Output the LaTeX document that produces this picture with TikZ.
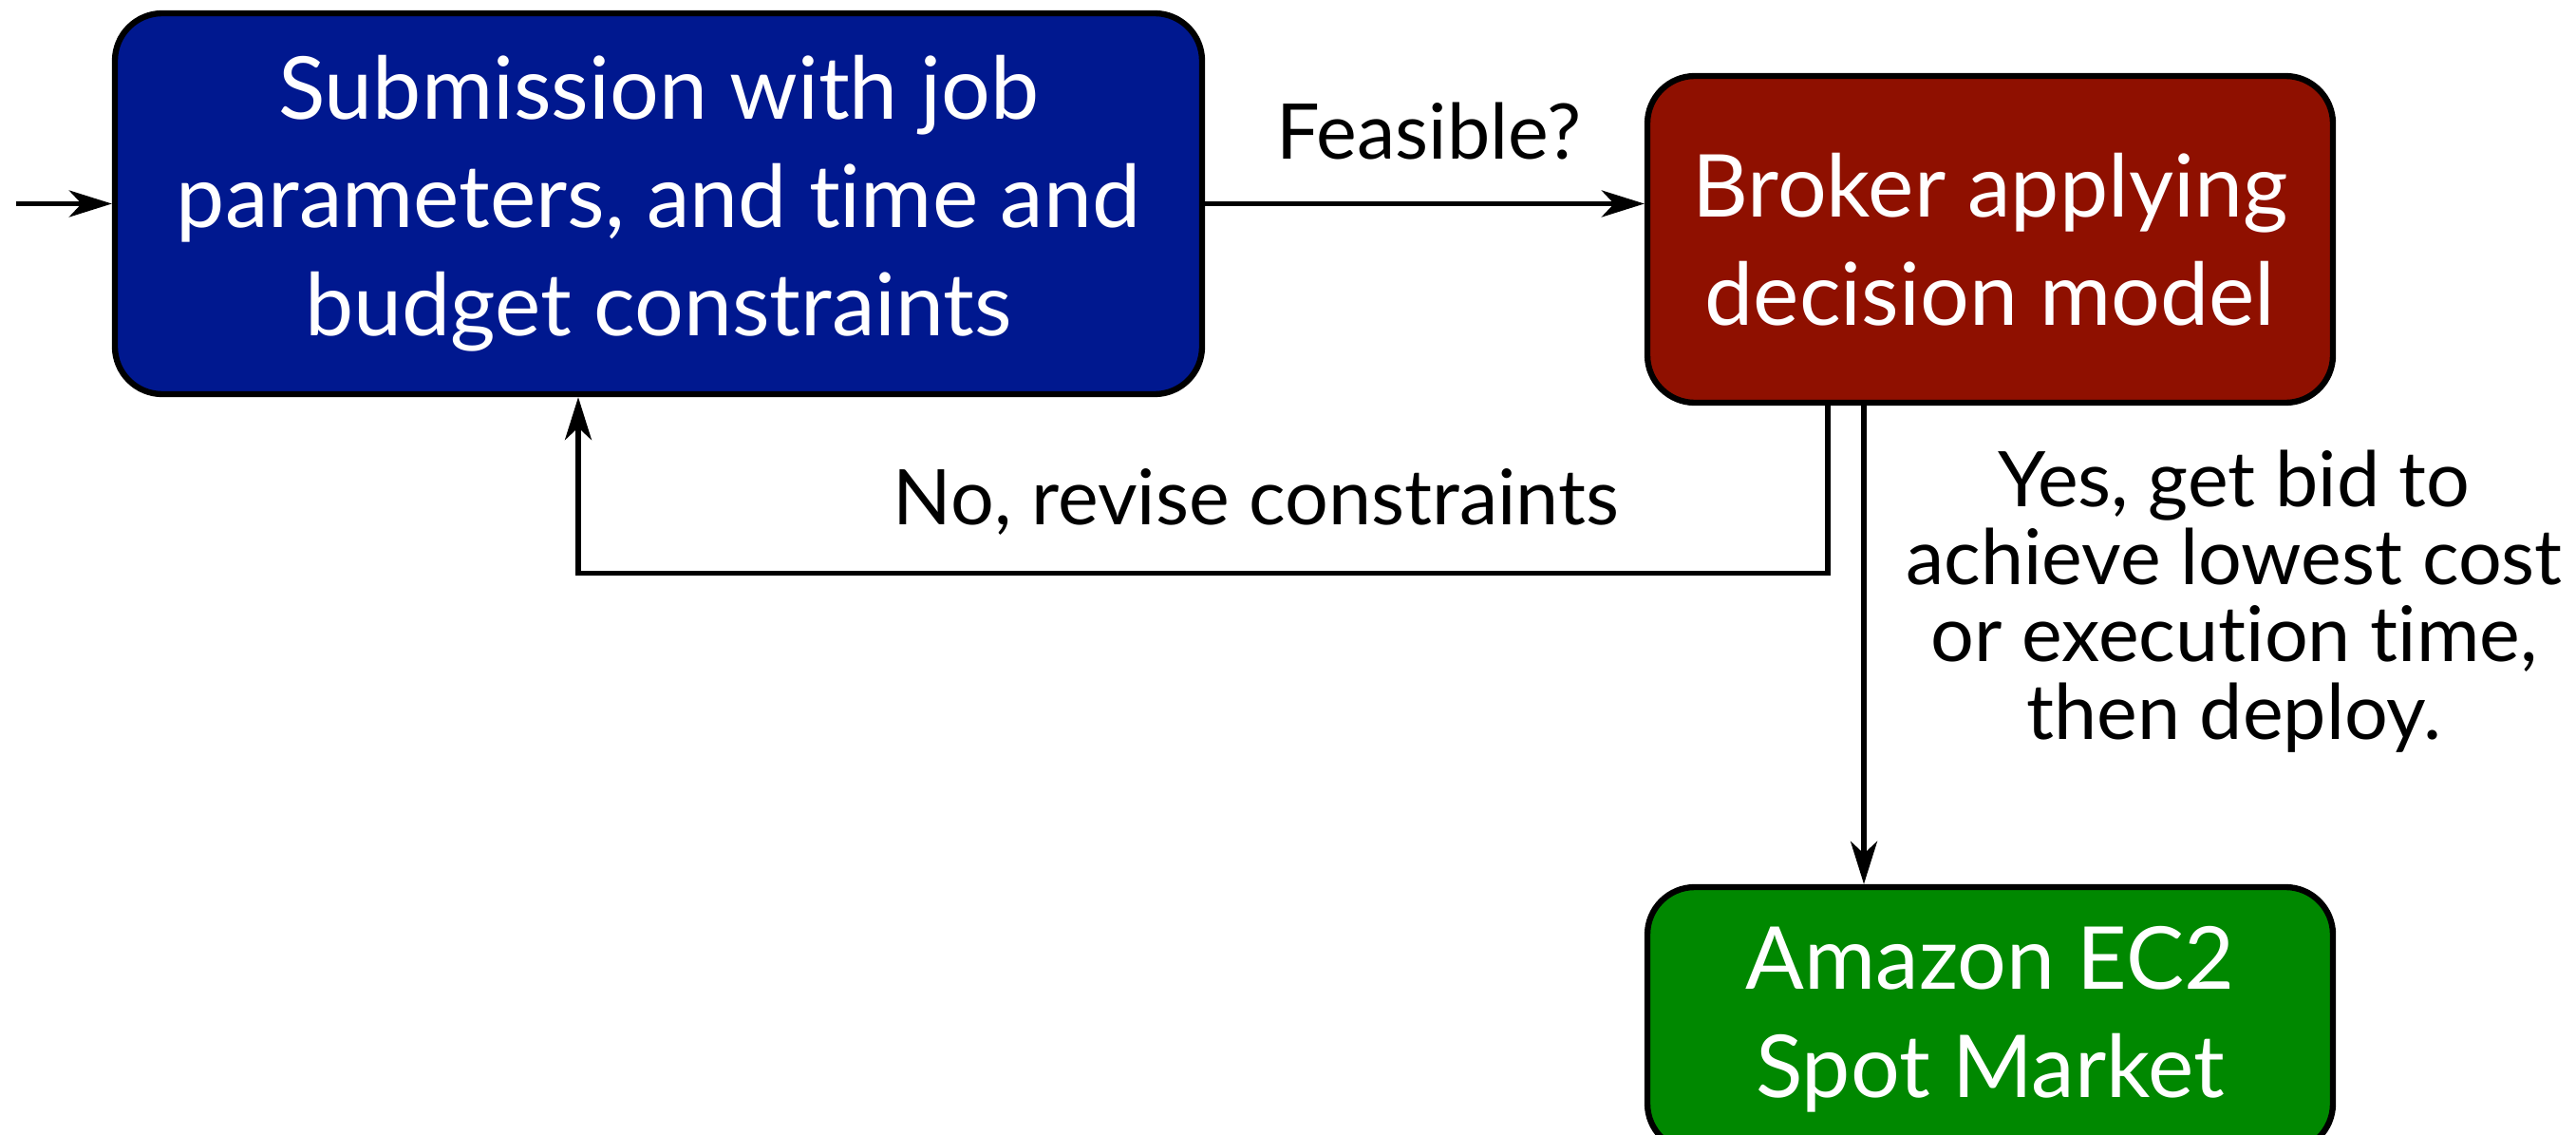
\documentclass[tikz,border=0pt]{standalone}
\usepackage{fontspec}
\setmainfont{Lato}[Ligatures=NoCommon]
\usepackage{tikz}
\usetikzlibrary{arrows.meta, positioning}

\definecolor{submitblue}{RGB}{0,24,143}
\definecolor{brokerred}{RGB}{143,16,0}
\definecolor{spotgreen}{RGB}{0,136,0}

\tikzset{
    stagebox/.style={draw=black, line width=1.8pt, rounded corners=0.5cm,
        text=white, align=center, font=\fontsize{26}{32.4}\selectfont},
    flow/.style={-{Stealth[length=0.45cm, width=0.28cm, inset=0.13cm]}, line width=1.5pt},
    flowlabel/.style={align=center, font=\fontsize{23}{23.2}\selectfont}
}

\begin{document}
\begin{tikzpicture}
        \useasboundingbox (0,0) rectangle (27.13,11.94);

        % Cajas del proceso
        \node[stagebox, fill=submitblue, minimum width=11.45cm, minimum height=4.01cm] (submit) at (6.935, 9.795)
            {Submission with job\\parameters, and time and\\budget constraints};
        \node[stagebox, fill=brokerred, minimum width=7.22cm, minimum height=3.44cm] (broker) at (20.96, 9.42)
            {Broker applying\\decision model};
        \node[stagebox, fill=spotgreen, minimum width=7.22cm, minimum height=2.78cm] (spot) at (20.96, 1.21)
            {Amazon EC2\\Spot Market};

        % Entrada y flechas entre cajas
        \coordinate (input) at (0.17, 9.795);
        \draw[flow] (input) -- (submit.west);
        \draw[flow] (submit.east) -- (submit.east -| broker.west);
        \node[flowlabel] (feasible) at (15.05, 10.56) {Feasible?};

        % Vuelta atras: revisar restricciones
        \draw[flow] ([xshift=-1.71cm]broker.south) -- ++(0,-1.76) -| ([xshift=-0.845cm]submit.south);
        \node[flowlabel] (revise) at (13.23, 6.66) {No, revise constraints};

        % Despliegue en el mercado spot
        \draw[flow] ([xshift=-1.33cm]broker.south) -- ([xshift=-1.33cm]spot.north);
        \node[flowlabel] (deploy) at (23.53, 5.61)
            {Yes, get bid to\\achieve lowest cost\\or execution time,\\then deploy.};
\end{tikzpicture}
\end{document}
